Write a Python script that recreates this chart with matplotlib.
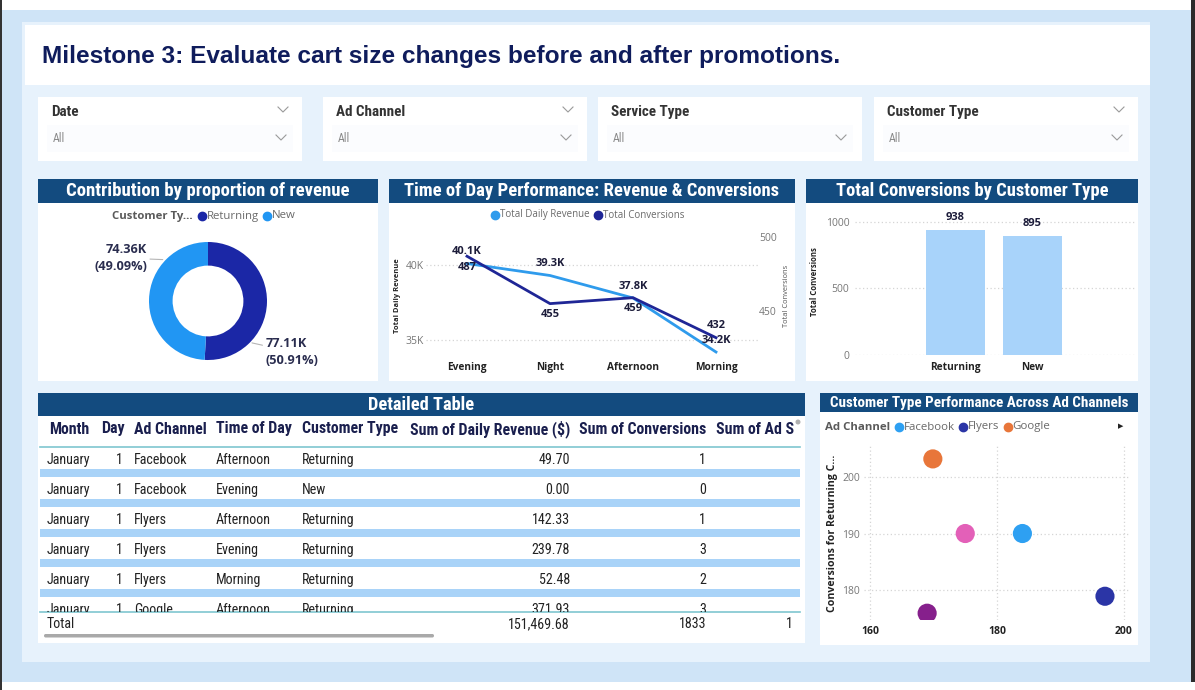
import numpy as np
import matplotlib
matplotlib.use("Agg")
import matplotlib.pyplot as plt
from matplotlib import font_manager as fm
from matplotlib.patches import Rectangle, FancyBboxPatch, Circle

W, H = 1195, 690

# ---- data ----
filter_names = ["Date", "Ad Channel", "Service Type", "Customer Type"]
filter_values = ["All", "All", "All", "All"]

customer_types = ["Returning", "New"]
revenue_k = [77.11, 74.36]
revenue_pct = [50.91, 49.09]

time_of_day = ["Evening", "Night", "Afternoon", "Morning"]
daily_revenue = [40100, 39300, 37800, 34200]
total_conversions = [487, 455, 459, 432]

conversions_by_type = [938, 895]

table_header = ["Month", "Day", "Ad Channel", "Time of Day", "Customer Type",
                "Sum of Daily Revenue ($)", "Sum of Conversions", "Sum of Ad S"]
table_rows = [
    ["January", "1", "Facebook", "Afternoon", "Returning", "49.70", "1"],
    ["January", "1", "Facebook", "Evening", "New", "0.00", "0"],
    ["January", "1", "Flyers", "Afternoon", "Returning", "142.33", "1"],
    ["January", "1", "Flyers", "Evening", "Returning", "239.78", "3"],
    ["January", "1", "Flyers", "Morning", "Returning", "52.48", "2"],
    ["January", "1", "Google", "Afternoon", "Returning", "371.93", "3"],
]
table_total = ["Total", "151,469.68", "1833", "1"]

ad_channels = ["Facebook", "Flyers", "Google"]
conv_new = [184, 197, 169.9, 175, 169]
conv_returning = [190, 178.9, 203.2, 190, 175.9]

# ---- colours ----
navy = "#0f1c5c"
header_blue = "#134b7f"
rev_col = "#2f9bec"
conv_col = "#1f2696"
ret_col = "#1b27a6"
new_col = "#2196f3"
bar_col = "#a8d3fa"
band_col = "#a9d3f8"
teal = "#7fc6d0"
grid_col = "#d5d5d5"
tick_gray = "#777777"
label_col = "#1c1c3a"
point_cols = ["#2ea0f2", "#2b35a6", "#e8763a", "#e360b8", "#86208c"]

# ---- fonts: narrow face for headers/table, a font with a real bold for labels ----
ttf = fm.fontManager.ttflist
avail = {f.name for f in ttf}
cond = {"family": "DejaVu Sans"}
for nm in ["Liberation Sans Narrow", "Roboto Condensed", "Noto Sans Condensed",
           "Open Sans Condensed", "DejaVu Sans Condensed", "Noto Sans Display Condensed"]:
    if nm in avail:
        cond = {"family": nm}
        break
else:
    for fam in ["Roboto", "Noto Sans", "Open Sans", "DejaVu Sans"]:
        st = {f.stretch for f in ttf if f.name == fam}
        if st & {"condensed", "semi-condensed", "extra-condensed", 75, 87.5, 62.5}:
            cond = {"family": fam, "stretch": "condensed"}
            break


def has_bold(fam):
    for f in ttf:
        if f.name == fam and f.style == "normal":
            w = f.weight
            if w in ("bold", "semibold", "demibold") or (isinstance(w, int) and w >= 600):
                return True
    return False


seg = "DejaVu Sans"
for fam in ["Open Sans", "Noto Sans", "Roboto", "Lato"]:
    if fam in avail and has_bold(fam):
        seg = fam
        break
plt.rcParams["font.family"] = seg

fig = plt.figure(figsize=(W / 100, H / 100), dpi=100)
fig.patch.set_facecolor("white")
renderer = fig.canvas.get_renderer()


def px_axes(x0, y0, x1, y1):
    return fig.add_axes([x0 / W, 1 - y1 / H, (x1 - x0) / W, (y1 - y0) / H])


def fit(t, width):
    # scale the font so the text spans the width it has in the reference
    w = t.get_window_extent(renderer).width
    t.set_fontsize(t.get_fontsize() * width / w)
    return t.get_fontsize()


bg = px_axes(0, 0, W, H)
bg.set_xlim(0, W)
bg.set_ylim(H, 0)
bg.axis("off")


def box(x0, y0, x1, y1, color, z=1):
    bg.add_patch(Rectangle((x0, y0), x1 - x0, y1 - y0, facecolor=color,
                           edgecolor="none", zorder=z))


def chevron(x, y):
    bg.plot([x - 5, x, x + 5], [y - 3, y + 2, y - 3], color="#9a9a9a", lw=0.8, zorder=4)


def panel(x0, y0, x1, y1, hb, title, tw):
    box(x0, y0, x1, hb, header_blue, z=2)
    box(x0, hb, x1, y1, "white", z=2)
    t = bg.text((x0 + x1) / 2, (y0 + hb) / 2 + 0.5, title, color="white", fontweight="bold",
                fontsize=12, ha="center", va="center", zorder=3, **cond)
    fit(t, tw)


def inline_legend(x, y, items, width, title=None):
    # legend laid out in one row, scaled to the width it has in the reference
    parts = []
    if title:
        parts.append(bg.text(x, y, title, fontsize=7.5, fontweight="bold", color="#5a5a5a",
                             va="center", zorder=5))
    for name, col in items:
        parts.append(bg.text(x, y, name, fontsize=7.5, color="#6a6a6a", va="center", zorder=5))
    total = sum(t.get_window_extent(renderer).width for t in parts)
    gaps = 5 * (1 if title else 0) + 13 * len(items)
    scale = (width - gaps) / total
    for t in parts:
        t.set_fontsize(t.get_fontsize() * scale)
    i = 0
    if title:
        x += parts[0].get_window_extent(renderer).width + 5
        i = 1
    for (name, col), t in zip(items, parts[i:]):
        bg.plot([x + 4], [y], marker="o", ms=6, color=col, zorder=5)
        t.set_x(x + 9)
        x += 13 + t.get_window_extent(renderer).width


# page background
box(0, 10, W, 682, "#cfe4f7", z=0)
box(0, 0, 2.5, H, "#333333", z=0)
box(1191, 0, W, 682, "#2b2b2b", z=0)
box(22, 22, 1150, 662, "#e7f2fc", z=0.5)
box(25, 25, 1150, 85, "white", z=1)
t = bg.text(42, 57, "Milestone 3: Evaluate cart size changes before and after promotions.",
            fontsize=16, fontweight="bold", family="Liberation Sans", color=navy,
            va="center", zorder=3)
fit(t, 796)

# slicers
slicer_texts = []
for fx, name, val in zip([38, 323, 598, 874], filter_names, filter_values):
    box(fx, 97, fx + 264, 161, "white", z=2)
    box(fx + 9, 125, fx + 255, 152, "#fbfcfe", z=2.5)
    slicer_texts.append(bg.text(fx + 13, 112, name, fontsize=10, fontweight="bold",
                                color="#333333", va="center", zorder=3, **cond))
    bg.text(fx + 15, 139, val, fontsize=8.5, color="#8a8a8a", va="center", zorder=3, **cond)
    if name != "Service Type":
        chevron(fx + 245, 110)
    chevron(fx + 243, 138)
slicer_fs = fit(slicer_texts[-1], 92)
for t in slicer_texts:
    t.set_fontsize(slicer_fs)

# ---- donut ----
panel(38, 179, 378, 381, 203, "Contribution by proportion of revenue", 283)
inline_legend(112, 216, list(zip(customer_types, [ret_col, new_col])), 187,
              title="Customer Ty...")
dax = px_axes(149, 242, 267, 360)
dax.pie(revenue_k, colors=[ret_col, new_col], startangle=90, counterclock=False,
        radius=1, wedgeprops=dict(width=0.4, edgecolor="none"))
dax.set_xlim(-1, 1)
dax.set_ylim(-1, 1)
lbl = [f"{k:.2f}K\n({p:.2f}%)" for k, p in zip(revenue_k, revenue_pct)]
dax.annotate(lbl[0], xy=(0.70, -0.70), xytext=(0.97, -0.86), ha="left", va="center",
             fontsize=9.2, fontweight="bold", color="#2a2d4f", linespacing=1.4,
             arrowprops=dict(arrowstyle="-", color="#b5b5b5", lw=0.8, shrinkA=0, shrinkB=2))
dax.annotate(lbl[1], xy=(-0.72, 0.70), xytext=(-1.03, 0.73), ha="right", va="center",
             multialignment="right", fontsize=9.2, fontweight="bold", color="#2a2d4f",
             linespacing=1.4,
             arrowprops=dict(arrowstyle="-", color="#b5b5b5", lw=0.8, shrinkA=0, shrinkB=2))

# ---- line chart ----
panel(389, 179, 795, 381, 203, "Time of Day Performance: Revenue & Conversions", 375)
inline_legend(491, 215, [("Total Daily Revenue", rev_col), ("Total Conversions", conv_col)],
              198)
lax = px_axes(425.5, 225, 757.5, 355)
lax.set_facecolor("none")
xi = np.arange(len(time_of_day))
lax.plot(xi, daily_revenue, color=rev_col, lw=2, zorder=3)
lax.set_xlim(-0.5, 3.5)
lax.set_ylim(34000, 42667)
lax.set_yticks([35000, 40000])
lax.set_yticklabels(["35K", "40K"])
lax.set_xticks(xi)
lax.set_xticklabels(time_of_day, fontweight="bold", fontsize=7.3, color="#222222")
lax.tick_params(axis="x", length=0, pad=5)
lax.tick_params(axis="y", length=0, pad=1, labelsize=7.5, labelcolor=tick_gray)
lax.grid(axis="y", color=grid_col, ls=(0, (1, 2)), lw=0.9)
for s in lax.spines.values():
    s.set_visible(False)
for i, v in enumerate(daily_revenue):
    lax.annotate(f"{v / 1000:.1f}K", (i, v), xytext=(0, 8.5), textcoords="offset points",
                 ha="center", va="center", fontsize=8, fontweight="bold", color=label_col,
                 zorder=6)
rax = lax.twinx()
rax.plot(xi, total_conversions, color=conv_col, lw=2, zorder=3)
rax.set_ylim(420.3, 508.1)
rax.set_yticks([450, 500])
rax.tick_params(axis="y", length=0, pad=1, labelsize=7.5, labelcolor=tick_gray)
for s in rax.spines.values():
    s.set_visible(False)
conv_dy = [-8, -8, -8, 9]
for i, v in enumerate(total_conversions):
    rax.annotate(f"{v}", (i, v), xytext=(0, conv_dy[i]), textcoords="offset points",
                 ha="center", va="center", fontsize=8, fontweight="bold", color=label_col)
bg.text(398, 296, "Total Daily Revenue", rotation=90, fontsize=5.4, fontweight="bold",
        color="#222222", ha="center", va="center", zorder=5)
bg.text(787, 296, "Total Conversions", rotation=90, fontsize=5.4, color="#555555",
        ha="center", va="center", zorder=5)

# ---- bar chart ----
panel(806, 179, 1138, 381, 203, "Total Conversions by Customer Type", 274)
bax = px_axes(855, 215, 1135, 355)
bax.set_facecolor("none")
bax.bar(range(len(customer_types)), conversions_by_type, width=0.77, color=bar_col, zorder=2)
bax.set_xlim(-1.305, 2.331)
bax.set_ylim(0, 1052.6)
bax.set_yticks([0, 500, 1000])
bax.set_xticks(range(len(customer_types)))
bax.set_xticklabels(customer_types, fontweight="bold", fontsize=7.3, color="#222222")
bax.tick_params(axis="x", length=0, pad=5)
bax.tick_params(axis="y", length=0, pad=4, labelsize=7.5, labelcolor=tick_gray)
bax.grid(axis="y", color=grid_col, ls=(0, (1, 2)), lw=0.9)
for s in bax.spines.values():
    s.set_visible(False)
for i, v in enumerate(conversions_by_type):
    bax.annotate(f"{v}", (i, v), xytext=(0, 9), textcoords="offset points",
                 ha="center", va="center", fontsize=8, fontweight="bold", color=label_col)
bg.text(815, 282, "Total Conversions", rotation=90, fontsize=5.6, fontweight="bold",
        color="#222222", ha="center", va="center", zorder=5)

# ---- table ----
panel(38, 393, 805, 643, 416, "Detailed Table", 106)
col_x = [47, 123, 134, 216, 302, 570, 706]
col_ha = ["left", "right", "left", "left", "left", "right", "right"]
head_x = [49, 101, 134, 216, 302, 410, 579, 716]
probe = bg.text(0, 0, table_header[5], fontsize=10, fontweight="bold", **cond)
head_fs = fit(probe, 160)
probe.remove()
probe = bg.text(0, 0, table_rows[0][0], fontsize=10, **cond)
row_fs = fit(probe, 44)
probe.remove()
for hx, name in zip(head_x, table_header):
    bg.text(hx, 429, name, fontsize=head_fs, fontweight="bold", color="#1a1f4e",
            va="center", zorder=5, **cond)
bg.plot([40, 800], [447, 447], color=teal, lw=1.2, zorder=5)
tax = px_axes(38, 416, 805, 612)
tax.set_xlim(38, 805)
tax.set_ylim(612, 416)
tax.axis("off")
for r, row in enumerate(table_rows):
    ry = 460 + 30 * r
    if r < len(table_rows) - 1:
        tax.add_patch(Rectangle((40, ry + 9), 760, 8, facecolor=band_col, edgecolor="none"))
    for cx, ha, val in zip(col_x, col_ha, row):
        tax.text(cx, ry, val, fontsize=row_fs, color="#222222", ha=ha,
                 va="center", clip_on=True, **cond)
bg.plot([40, 800], [612, 612], color=teal, lw=1.2, zorder=5)
for cx, val in zip([47, 570, 706, 793], table_total):
    bg.text(cx, 624, val, fontsize=row_fs, color="#222222",
            ha="left" if val == "Total" else "right", va="center", zorder=5, **cond)
bg.add_patch(FancyBboxPatch((44, 634), 390, 3.5, boxstyle="round,pad=0,rounding_size=1.7",
                            facecolor="#a9a9a9", edgecolor="none", zorder=5))
bg.add_patch(Circle((798, 422), 2.5, facecolor="#b0b0b0", edgecolor="none", zorder=5))

# ---- scatter ----
panel(820, 393, 1138, 645, 412, "Customer Type Performance Across Ad Channels", 300)
inline_legend(825, 427, list(zip(ad_channels, point_cols[:3])), 229, title="Ad Channel")
bg.text(1121, 426, "\u25b6", fontsize=5, color="#222222", ha="center", va="center",
        family="DejaVu Sans", zorder=5)
sax = px_axes(864, 445, 1130, 620)
sax.set_facecolor("none")
sax.scatter(conv_new, conv_returning, s=190, c=point_cols, zorder=3, linewidths=0)
sax.set_xlim(159.06, 200.94)
sax.set_ylim(174.7, 205.66)
sax.set_xticks([160, 180, 200])
sax.set_yticks([180, 190, 200])
sax.tick_params(axis="x", length=0, pad=4, labelsize=7.5, labelcolor="#222222")
for t in sax.get_xticklabels():
    t.set_fontweight("bold")
sax.tick_params(axis="y", length=0, pad=3, labelsize=7.5, labelcolor=tick_gray)
sax.grid(True, color=grid_col, ls=(0, (1, 2)), lw=0.9)
for s in sax.spines.values():
    s.set_visible(False)
bg.text(833, 533, "Conversions for Returning C...", rotation=90, fontsize=7.6,
        fontweight="bold", color="#222222", ha="center", va="center", zorder=5)

fig.savefig("out.png", dpi=100)
